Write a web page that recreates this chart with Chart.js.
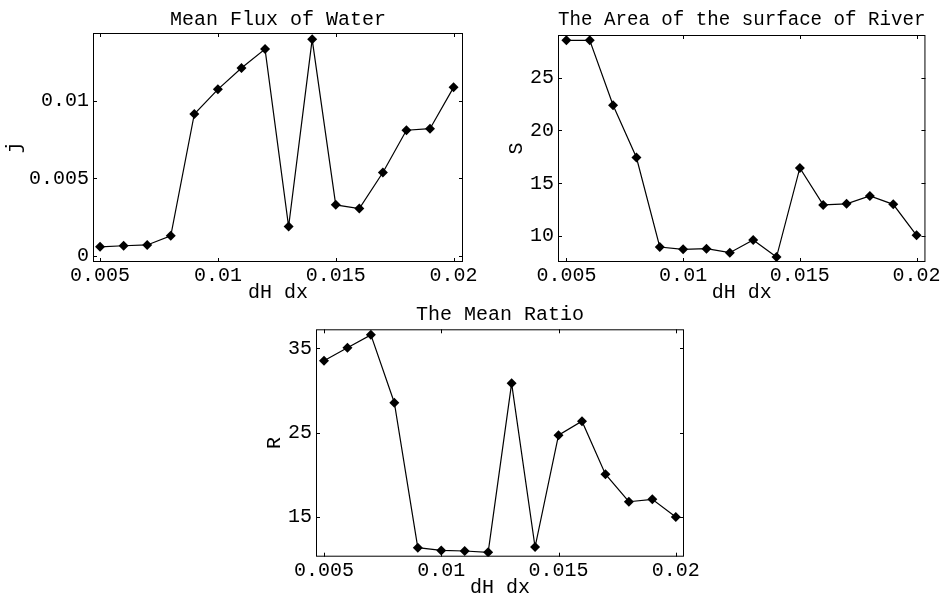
<!DOCTYPE html>
<html>
<head>
<meta charset="utf-8">
<script src="https://cdn.jsdelivr.net/npm/chart.js@4.4.1/dist/chart.umd.min.js"></script>
<style>
  body { margin: 0; background: #fff; width: 943px; height: 599px; position: relative; overflow: hidden; }
  .box { position: absolute; }
</style>
</head>
<body>
<div class="box" style="left:0px;top:0px;width:485px;height:305px"><canvas id="c1"></canvas></div>
<div class="box" style="left:480px;top:0px;width:463px;height:305px"><canvas id="c2"></canvas></div>
<div class="box" style="left:240px;top:295px;width:470px;height:305px"><canvas id="c3"></canvas></div>
<script>
// dH dx values (x axis)
const dhdx = [0.005, 0.006, 0.007, 0.008, 0.009, 0.010, 0.011, 0.012,
              0.013, 0.014, 0.015, 0.016, 0.017, 0.018, 0.019, 0.020];

// mean flux of water j
const fluxJ = [0.00058, 0.00065, 0.0007, 0.00129, 0.00916, 0.01075, 0.01213, 0.01335,
               0.00189, 0.01398, 0.00329, 0.00305, 0.00538, 0.00811, 0.00821, 0.01088];

// area of the surface of river S
const areaS = [28.54, 28.54, 22.39, 17.44, 8.96, 8.74, 8.8, 8.42,
               9.62, 8.01, 16.45, 12.95, 13.05, 13.8, 13.0, 10.07];

// mean ratio R
const ratioR = [33.53, 35.07, 36.6, 28.54, 11.32, 11.0, 10.93, 10.77,
                30.84, 11.4, 24.68, 26.34, 20.05, 16.78, 17.06, 14.96];

// tick positions
const xTicks = [0.005, 0.01, 0.015, 0.02];
const fluxTicks = [0, 0.005, 0.01];
const areaTicks = [10, 15, 20, 25];
const ratioTicks = [15, 25, 35];

const FONT = "'Liberation Mono', 'Courier New', monospace";
const SIZE = 20;

// frame around the plot with small inward tick marks
const framePlugin = {
  id: 'frame',
  afterDatasetsDraw(chart) {
    const {ctx, chartArea: a, scales} = chart;
    ctx.save();
    ctx.strokeStyle = '#000';
    ctx.lineWidth = 1;
    ctx.strokeRect(a.left + 0.5, a.top + 0.5, a.right - a.left - 1, a.bottom - a.top - 1);
    ctx.beginPath();
    scales.x.ticks.forEach(t => {
      const px = Math.round(scales.x.getPixelForValue(t.value)) + 0.5;
      ctx.moveTo(px, a.bottom); ctx.lineTo(px, a.bottom - 4);
      ctx.moveTo(px, a.top); ctx.lineTo(px, a.top + 4);
    });
    scales.y.ticks.forEach(t => {
      const py = Math.round(scales.y.getPixelForValue(t.value)) + 0.5;
      ctx.moveTo(a.left, py); ctx.lineTo(a.left + 4, py);
      ctx.moveTo(a.right, py); ctx.lineTo(a.right - 4, py);
    });
    ctx.stroke();
    ctx.restore();
  }
};

function makeChart(id, cfg) {
  const pts = dhdx.map((x, i) => ({x: x, y: cfg.values[i]}));
  return new Chart(document.getElementById(id), {
    type: 'line',
    data: {
      datasets: [{
        data: pts,
        borderColor: '#000',
        borderWidth: 1.2,
        backgroundColor: '#000',
        pointStyle: 'rectRot',
        pointRadius: 5,
        pointBorderWidth: 0,
        pointBackgroundColor: '#000',
        tension: 0
      }]
    },
    options: {
      responsive: true,
      maintainAspectRatio: false,
      animation: false,
      events: [],
      layout: { padding: { left: 0, right: cfg.padRight, top: 0, bottom: 0 } },
      plugins: {
        legend: { display: false },
        tooltip: { enabled: false },
        title: {
          display: true,
          text: cfg.title,
          fullSize: false,
          color: '#000',
          font: { family: FONT, size: SIZE, weight: 'normal' },
          padding: { top: cfg.titleTop, bottom: cfg.titleBottom }
        }
      },
      scales: {
        x: {
          type: 'linear',
          min: cfg.xMin, max: cfg.xMax,
          grid: { display: true, drawOnChartArea: false, drawTicks: false },
          border: { display: false },
          afterBuildTicks: s => { s.ticks = xTicks.map(v => ({value: v})); },
          afterFit: s => { s.height = cfg.xHeight; },
          ticks: {
            color: '#000', padding: 2, maxRotation: 0,
            font: { family: FONT, size: SIZE },
            callback: v => String(v)
          },
          title: {
            display: true, text: 'dH dx', color: '#000',
            font: { family: FONT, size: SIZE },
            padding: { top: 0, bottom: 0 }
          }
        },
        y: {
          type: 'linear',
          min: cfg.yMin, max: cfg.yMax,
          grid: { display: true, drawOnChartArea: false, drawTicks: false },
          border: { display: false },
          afterBuildTicks: s => { s.ticks = cfg.yTicks.map(v => ({value: v})); },
          afterFit: s => { s.width = cfg.yWidth; },
          ticks: {
            color: '#000', padding: 4,
            font: { family: FONT, size: SIZE },
            callback: v => String(v)
          },
          title: {
            display: true, text: cfg.yLabel, color: '#000',
            font: { family: FONT, size: SIZE },
            padding: { top: cfg.yTitlePad, bottom: 0 }
          }
        }
      }
    },
    plugins: [framePlugin]
  });
}

makeChart('c1', {
  values: fluxJ, title: 'Mean Flux of Water', yLabel: 'j', yTicks: fluxTicks,
  xMin: 0.0047, xMax: 0.0204, yMin: -0.0004, yMax: 0.01439,
  padRight: 22, titleTop: 8, titleBottom: 1, xHeight: 43,
  yWidth: 93, yTitlePad: 3
});

makeChart('c2', {
  values: areaS, title: 'The Area of the surface of River', yLabel: 'S', yTicks: areaTicks,
  xMin: 0.00464, xMax: 0.02038, yMin: 7.54, yMax: 29.04,
  padRight: 16, titleTop: 8, titleBottom: 3, xHeight: 43,
  yWidth: 78, yTitlePad: 25
});

makeChart('c3', {
  values: ratioR, title: 'The Mean Ratio', yLabel: 'R', yTicks: ratioTicks,
  xMin: 0.00466, xMax: 0.02035, yMin: 10.25, yMax: 37.26,
  padRight: 26, titleTop: 8, titleBottom: 2.3, xHeight: 43.3,
  yWidth: 76, yTitlePad: 23
});
</script>
</body>
</html>
